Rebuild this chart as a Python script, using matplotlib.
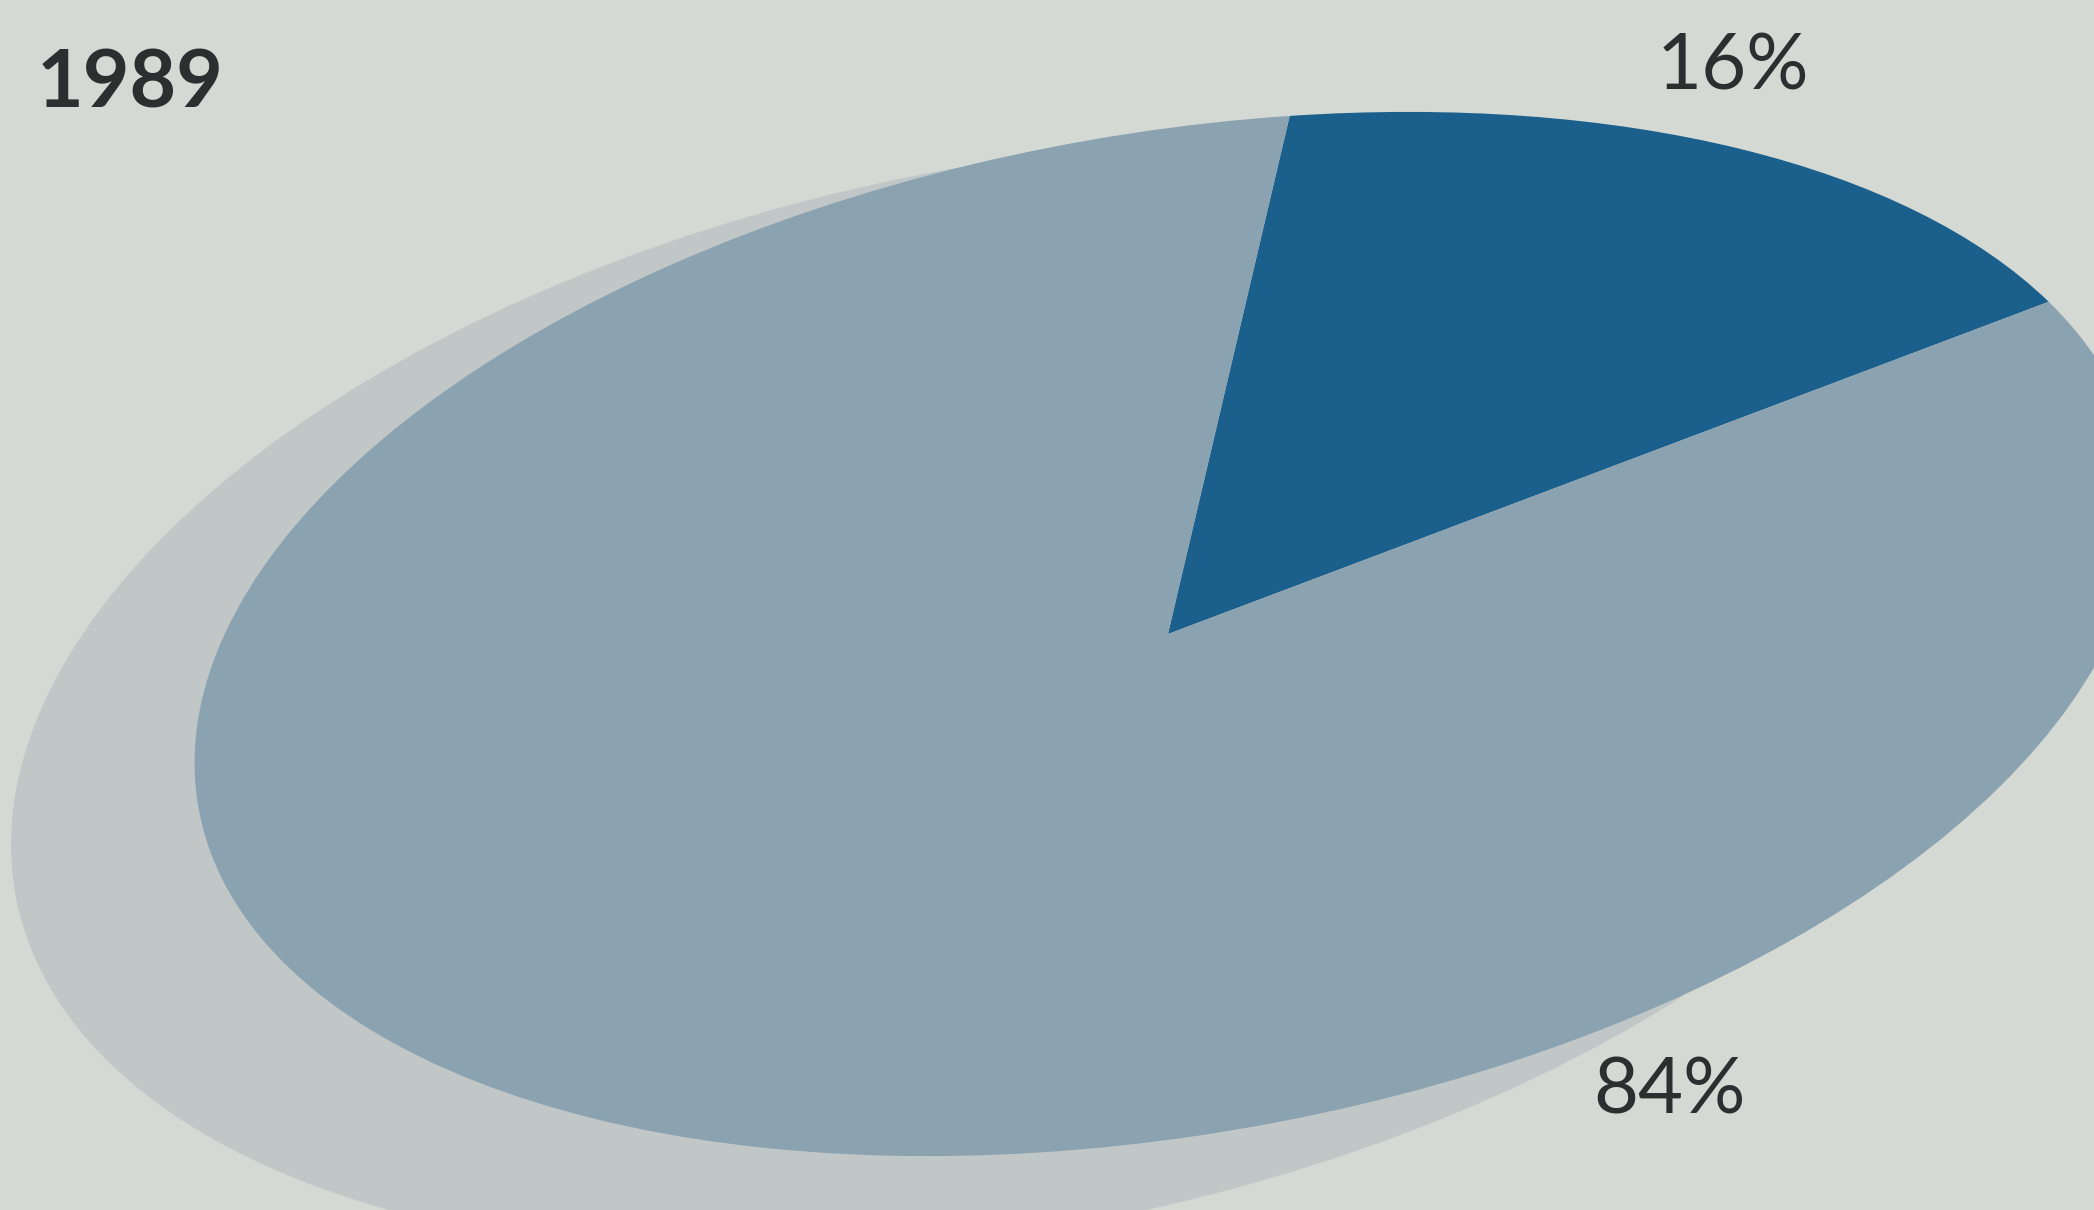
import matplotlib
matplotlib.use("Agg")
import matplotlib.pyplot as plt
from matplotlib.patches import Ellipse
from matplotlib.transforms import Affine2D

# valores do gráfico
ano = "1989"
partes = [16, 84]
cores = ["#1b5f8c", "#8ba3b1"]

fundo = "#d4d9d4"
sombra = "#c1c7c7"
cor_texto = "#2b2f2f"

W, H = 2094, 1210
fig = plt.figure(figsize=(W / 100, H / 100), dpi=100, facecolor=fundo)
ax = fig.add_axes([0, 0, 1, 1])
ax.set_facecolor(fundo)

# pizza de raio 1 esticada e girada, para parecer vista em perspectiva
cx, cy = 1168, H - 634
a, b = 985, 500
giro = 10.2

fatias, _ = ax.pie(partes, colors=cores, startangle=20, radius=1,
                   center=(0, 0), wedgeprops=dict(linewidth=0))
tr = Affine2D().scale(a, b).rotate_deg(giro).translate(cx, cy) + ax.transData
for f in fatias:
    f.set_transform(tr)
    f.set_zorder(2)

# sombra um pouco maior, para baixo e para a esquerda
ax.add_patch(Ellipse((1011, H - 697), 2 * 1015, 2 * 530, angle=11.6,
                     facecolor=sombra, edgecolor="none", zorder=1))

ax.set_xlim(0, W)
ax.set_ylim(0, H)
ax.set_aspect("auto")
ax.axis("off")

fonte = ["Lato", "Liberation Sans", "DejaVu Sans"]
ax.text(37, H - 107, ano, fontsize=58, fontweight="bold", color=cor_texto,
        family=fonte, ha="left", va="baseline")
ax.text(1733, H - 90, f"{partes[0]}%", fontsize=56, fontweight="normal",
        color=cor_texto, family=fonte, ha="center", va="baseline")
ax.text(1669, H - 1113, f"{partes[1]}%", fontsize=56, fontweight="normal",
        color=cor_texto, family=fonte, ha="center", va="baseline")

fig.savefig("out.png", dpi=100, facecolor=fundo)
